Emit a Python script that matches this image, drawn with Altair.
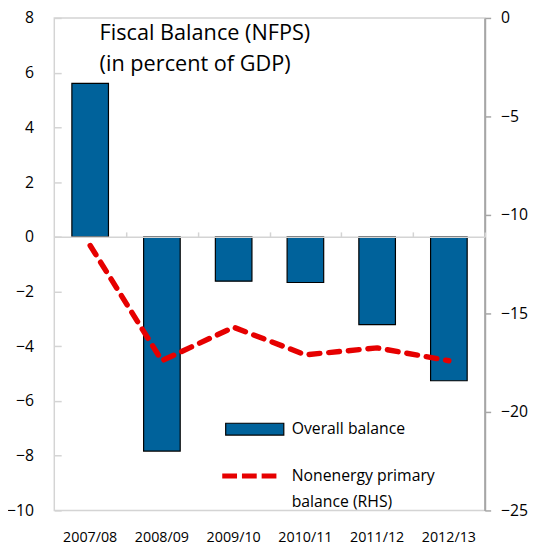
import altair as alt
import pandas as pd

years = ["2007/08", "2008/09", "2009/10", "2010/11", "2011/12", "2012/13"]
overall = [5.61, -7.83, -1.62, -1.67, -3.21, -5.26]
nonenergy = [-11.55, -17.4, -15.7, -17.1, -16.75, -17.4]
left_ticks = [-10, -8, -6, -4, -2, 0, 2, 4, 6, 8]
right_ticks = [-25, -20, -15, -10, -5, 0]
title_lines = ["Fiscal Balance (NFPS)", "(in percent of GDP)"]
bar_label = "Overall balance"
line_label = "Nonenergy primary balance (RHS)"

df = pd.DataFrame({
    "year": years,
    "overall": overall,
    "nonenergy": nonenergy,
    "s1": [bar_label] * len(years),
    "s2": [line_label] * len(years),
})

W, H = 437, 500
step = W / len(years)
zero_px = H * 8 / 18.0
LIGHT = "#D4D4D4"
DARK = "#A6A6A6"
BLUE = "#00629B"
RED = "#E60000"

xscale = alt.Scale(domain=years, paddingInner=0.49, paddingOuter=0.245)

bars = alt.Chart(df).mark_bar(stroke="black", strokeWidth=1.2).encode(
    x=alt.X("year:N", scale=xscale, sort=years, title=None,
            axis=alt.Axis(orient="bottom", ticks=False, tickSize=0, domain=False,
                          labelFontSize=14.5, labelPadding=21, labelAngle=0,
                          labelColor="black", grid=False)),
    y=alt.Y("overall:Q", scale=alt.Scale(domain=[-10, 8], nice=False), title=None,
            axis=alt.Axis(orient="left", values=left_ticks, ticks=False, tickSize=0,
                          domain=False, labelFontSize=16, labelPadding=21,
                          labelColor="black", grid=False)),
    fill=alt.Fill("s1:N", scale=alt.Scale(domain=[bar_label], range=[BLUE]),
                  legend=alt.Legend(title=None, orient="none", legendX=173, legendY=387,
                                    symbolType="M-1,-0.2034H1V0.2034H-1Z", symbolSize=3481,
                                    symbolStrokeColor="black", symbolStrokeWidth=1.2,
                                    labelFontSize=16, labelColor="black", labelOffset=7,
                                    padding=0, labelLimit=400)),
)

line = alt.Chart(df).mark_line(strokeWidth=5.5, strokeDash=[11, 9], strokeCap="round").encode(
    x=alt.X("year:N", scale=xscale, sort=years, title=None,
            axis=alt.Axis(orient="top", offset=-zero_px, labels=False, ticks=True, tickSize=5,
                          tickBand="center", tickOffset=step / 2,
                          domain=True, domainColor=LIGHT, domainWidth=1.5,
                          tickColor=LIGHT, tickWidth=1.5, grid=False, zindex=1)),
    y=alt.Y("nonenergy:Q", scale=alt.Scale(domain=[-25, 0], nice=False), title=None,
            axis=alt.Axis(orient="right", values=right_ticks, tickSize=6,
                          domainColor=DARK, domainWidth=2, tickColor=DARK, tickWidth=1.5,
                          labelFontSize=16, labelPadding=10, labelColor="black", grid=False)),
    stroke=alt.Stroke("s2:N", scale=alt.Scale(domain=[line_label], range=[RED]),
                      legend=alt.Legend(title=None, orient="none", legendX=168, legendY=435,
                                        symbolType="stroke", symbolSize=3025,
                                        symbolStrokeWidth=5, symbolDash=[15, 5],
                                        labelFontSize=16, labelColor="black", labelOffset=13,
                                        labelExpr="['Nonenergy primary', 'balance (RHS)']",
                                        padding=0, labelLimit=400)),
)

left_ticks_layer = alt.Chart(df).mark_point(opacity=0).encode(
    y=alt.Y("overall:Q", scale=alt.Scale(domain=[-10, 8], nice=False), title=None,
            axis=alt.Axis(orient="right", offset=-W, values=left_ticks, labels=False,
                          domain=False, tickSize=7, tickColor=LIGHT, tickWidth=1.5, grid=False)),
)

chart = alt.layer(bars, line, left_ticks_layer).resolve_scale(
    y="independent"
).resolve_axis(x="independent").properties(
    width=W, height=H,
    title=alt.TitleParams(text=title_lines, anchor="start", frame="group", fontSize=22,
                          fontWeight="normal", lineHeight=32, color="black", baseline="top",
                          offset=0, dx=46, dy=67),
    autosize=alt.AutoSizeParams(type="none"),
    padding={"left": 47, "top": 6, "right": 50, "bottom": 32},
).configure(
    font="Open Sans",
    style={"guide-label": {"lineHeight": 26}},
).configure_view(
    stroke=LIGHT, strokeWidth=1.5,
)

chart.save("out.html", embed_options={"renderer": "svg", "actions": False})
